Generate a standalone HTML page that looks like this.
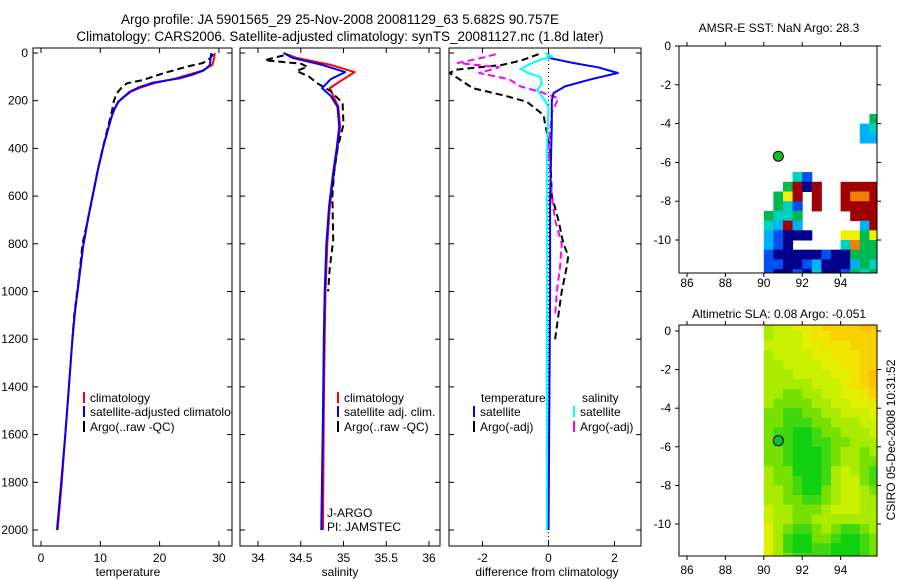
<!DOCTYPE html>
<html><head><meta charset="utf-8">
<style>
html,body{margin:0;padding:0;background:#fff;}
svg{display:block;font-family:"Liberation Sans",sans-serif;}
text{font-size:12px;fill:#000;}
</style></head>
<body>
<svg id="fig" width="900" height="580" viewBox="0 0 900 580">
<defs>
<clipPath id="c1"><rect x="33" y="48" width="199" height="498"/></clipPath>
<clipPath id="c2"><rect x="240" y="48" width="200" height="498"/></clipPath>
<clipPath id="c3"><rect x="449" y="48" width="192" height="498"/></clipPath>
<clipPath id="cm1"><rect x="679" y="46" width="198" height="227"/></clipPath>
<clipPath id="cm2"><rect x="679" y="325" width="198" height="231"/></clipPath>
</defs>
<text x="340" y="24" text-anchor="middle" style="font-size:13.5px">Argo profile: JA 5901565_29 25-Nov-2008 20081129_63 5.682S 90.757E</text>
<text x="340" y="41" text-anchor="middle" style="font-size:13.5px">Climatology: CARS2006. Satellite-adjusted climatology: synTS_20081127.nc (1.8d later)</text>
<g id="g"></g>
</svg>
<script>
// ---- profile data ----
const climDepth = [0,20,50,74,90,106,124,145,162,185,204,235,267,330,393,490,587,700,812,950,1090,1200,1400,1600,1800,2000];
const tempClim  = [29.3,29.2,28.9,27.2,25.0,22.8,19.5,16.8,15.2,14.0,13.1,12.4,11.9,11.2,10.5,9.6,8.8,7.9,7.1,6.4,5.7,5.3,4.7,4.1,3.5,2.8];
const tempSat   = [28.7,28.6,28.5,27.4,25.6,23.4,18.9,16.4,15.0,13.9,13.0,12.4,11.9,11.2,10.5,9.6,8.8,7.9,7.1,6.4,5.7,5.3,4.7,4.1,3.4,2.7];
const argoDepth = [5,20,42,57,85,113,127,145,168,200,239,300,400,500,600,700,800,900,1000,1100,1200];
const tempArgo  = [29.0,28.6,27.3,24.6,20.6,17.2,14.5,13.6,12.8,12.3,12.0,11.4,10.4,9.5,8.7,7.9,7.0,6.6,6.1,5.6,5.3];

const salDepth = [0,20,50,80,110,147,180,225,310,400,500,645,800,1000,1200,1500,2000];
const salClim  = [34.3,34.45,34.85,35.13,35.0,34.84,34.88,34.94,34.96,34.93,34.89,34.84,34.81,34.79,34.78,34.77,34.76];
const salSat   = [34.3,34.4,34.75,35.02,34.85,34.75,34.85,34.93,34.95,34.92,34.88,34.83,34.8,34.78,34.77,34.76,34.74];
const salArgoDepth = [10,30,45,58,75,100,126,160,210,300,400,500,600,785,900,1000];
const salArgo  = [34.3,34.08,34.5,34.58,34.45,34.6,34.69,34.85,34.99,35.0,34.93,34.89,34.87,34.88,34.84,34.82];

const tDiffSatDepth = [0,20,42,60,84,110,140,168,200,300,600,1000,2000];
const tDiffSat = [0,0,0.75,1.5,2.1,1.3,0.5,0.15,0.1,0.1,0.05,0.05,0.0];
const sDiffSatDepth = [0,15,30,50,67,85,100,130,155,190,225,400,2000];
const sDiffSat = [-0.1,0.1,-0.3,-0.6,-0.85,-0.6,-0.25,-0.2,-0.35,-0.15,0,-0.05,-0.05];
const tDiffArgoDepth = [5,30,50,70,84,110,147,180,205,260,300,400,600,700,800,850,900,1000,1100,1200];
const tDiffArgo = [-0.3,-0.8,-1.4,-2.8,-3.0,-2.7,-2.3,-1.3,-0.65,-0.15,-0.1,0.05,0.1,0.3,0.45,0.6,0.55,0.4,0.3,0.2];
const sDiffArgoDepth = [5,20,42,60,84,110,140,165,190,250,400,600,700,800,900,1000,1100];
const sDiffArgo = [-1.6,-2.0,-2.75,-1.5,-2.1,-1.2,-0.85,-0.2,0.3,0.1,0.0,0.1,0.2,0.4,0.35,0.25,0.2];

const depthTicks = [0,200,400,600,800,1000,1200,1400,1600,1800,2000];
const tempTicks = [0,10,20,30];
const salTicks = [34,34.5,35,35.5,36];
const salTickLabels = ["34","34.5","35","35.5","36"];
const diffTicks = [-2,0,2];

// ---- map data ----
const floatLon = 90.757, floatLat = -5.682;
const sstLatTop = [-6.5,-7,-7.5,-8,-8.5,-9,-9.5,-10,-10.5,-11,-11.5];
const sstRows = [
 "...TB.......",
 "..GRNR..RRRR",
 ".GYR.R..ROOR",
 ".GTB.R..RRRR",
 "GTTG.....RRR",
 "TCRC......CR",
 "CBNNN...YYGY",
 "CBN.....TOGG",
 "BNNNNNBNNGGG",
 "BBNNBCNNNCGT",
 "BNNBNTNNBGTG"];
const sstExtraLat = [-3.5,-4,-4.5];
const sstExtraRows = ["...........G","..........CT","..........CC"];
const slaLatTop = [0.5,0,-0.5,-1,-1.5,-2,-2.5,-3,-3.5,-4,-4.5,-5,-5.5,-6,-6.5,-7,-7.5,-8,-8.5,-9,-9.5,-10,-10.5,-11,-11.5];
const slaRows = [
 "344566777788","344456677777","444455666777","344445566677","334444556677",
 "333444455678","333334445678","332233445567","322223344556","221122334445",
 "221112233344","211001223334","211001122333","221000123323","221000123322",
 "322000134321","322100134421","332100234432","332211234433","433222344433",
 "433223333333","532112321123","531002210012","531001100012","532111100012"];

const svg = document.getElementById('fig');
const G = document.getElementById('g');
const NS = 'http://www.w3.org/2000/svg';
function mk(tag, attrs, parent){const e=document.createElementNS(NS,tag);for(const k in attrs)e.setAttribute(k,attrs[k]);(parent||G).appendChild(e);return e;}

const yD = d => 53 + d*0.2385;
const xT = t => 41 + t*5.93;
const xS = s => 258 + (s-34)*85.5;
const xDf = v => 548.5 + v*33;

const panels = [
 {name:'temperature-panel', x:33, w:199, clip:'c1', xs:xT, ticks:tempTicks, labels:tempTicks.map(String), xlabel:'temperature', lx:128},
 {name:'salinity-panel', x:240, w:200, clip:'c2', xs:xS, ticks:salTicks, labels:salTickLabels, xlabel:'salinity', lx:340},
 {name:'difference-panel', x:449, w:192, clip:'c3', xs:xDf, ticks:diffTicks, labels:diffTicks.map(String), xlabel:'difference from climatology', lx:547}
];
const pg = [];
panels.forEach((p,i)=>{
  const g = mk('g',{});
  
  
  pg.push(g);
  const r = mk('rect',{x:p.x,y:48,width:p.w,height:498,fill:'none',stroke:'#000','stroke-width':1},g);
  
  
  p.ticks.forEach((t,k)=>{
    const x = p.xs(t);
    mk('line',{x1:x,x2:x,y1:546,y2:541,stroke:'#000'},g);
    mk('line',{x1:x,x2:x,y1:48,y2:53,stroke:'#000'},g);
    const tl = mk('text',{x:x,y:562,'text-anchor':'middle'},g);
    tl.textContent = p.labels[k];
    
    
  });
  depthTicks.forEach(d=>{
    const y = yD(d);
    mk('line',{x1:p.x,x2:p.x+5,y1:y,y2:y,stroke:'#000'},g);
    mk('line',{x1:p.x+p.w,x2:p.x+p.w-5,y1:y,y2:y,stroke:'#000'},g);
    if(i===0){
      const tl = mk('text',{x:28,y:y+4,'text-anchor':'end'},g);
      tl.textContent = String(d);
      
      
    }
  });
  const xl = mk('text',{x:p.lx,y:576,'text-anchor':'middle'},g);
  xl.textContent = p.xlabel;
  
  
});

function line(g, clip, depths, vals, xs, color, dash, name){
  const pts = depths.map((d,k)=>xs(vals[k]).toFixed(1)+','+yD(d).toFixed(1)).join(' ');
  const a = {points:pts,fill:'none',stroke:color,'stroke-width':2,'clip-path':'url(#'+clip+')','stroke-linejoin':'round'};
  if(dash) a['stroke-dasharray']=dash;
  const pl = mk('polyline',a,g);
  
  
}
const zl = mk('line',{x1:xDf(0),x2:xDf(0),y1:48,y2:546,stroke:'#000','stroke-dasharray':'1,3'},pg[2]);



line(pg[0],'c1',climDepth,tempClim,xT,'#ff0000',null,'temperature-climatology-line');
line(pg[0],'c1',argoDepth,tempArgo,xT,'#000','7,4','temperature-argo-line');
line(pg[0],'c1',climDepth,tempSat,xT,'#0000ff',null,'temperature-satellite-line');
line(pg[1],'c2',salDepth,salClim,xS,'#ff0000',null,'salinity-climatology-line');
line(pg[1],'c2',salArgoDepth,salArgo,xS,'#000','7,4','salinity-argo-line');
line(pg[1],'c2',salDepth,salSat,xS,'#0000ff',null,'salinity-satellite-line');
line(pg[2],'c3',tDiffArgoDepth,tDiffArgo,xDf,'#000','7,4','temp-diff-argo-line');
line(pg[2],'c3',sDiffArgoDepth,sDiffArgo,xDf,'#ff00ff','7,4','sal-diff-argo-line');
line(pg[2],'c3',tDiffSatDepth,tDiffSat,xDf,'#0000ff',null,'temp-diff-satellite-line');
line(pg[2],'c3',sDiffSatDepth,sDiffSat,xDf,'#00ffff',null,'sal-diff-satellite-line');

function legItem(g,x,y,color,label,name){
  const it = mk('g',{},g);
  
  
  mk('line',{x1:x,x2:x,y1:y-10,y2:y+1,stroke:color,'stroke-width':2},it);
  const t = mk('text',{x:x+6,y:y},it); t.textContent = label;
}
const lg1 = mk('g',{'clip-path':'url(#c1)'},pg[0]);


legItem(lg1,84,402,'#ff0000','climatology','legend-climatology');
legItem(lg1,84,416,'#0000ff','satellite-adjusted climatology','legend-satellite-adjusted');
legItem(lg1,84,431,'#000','Argo(..raw -QC)','legend-argo');
const lg2 = mk('g',{},pg[1]);


legItem(lg2,338,402,'#ff0000','climatology','legend-climatology');
legItem(lg2,338,416,'#0000ff','satellite adj. clim.','legend-satellite-adj');
legItem(lg2,338,431,'#000','Argo(..raw -QC)','legend-argo');
const lg3 = mk('g',{},pg[2]);


let tt = mk('text',{x:481,y:402},lg3); tt.textContent='temperature';
tt = mk('text',{x:582,y:402},lg3); tt.textContent='salinity';
legItem(lg3,474,416,'#0000ff','satellite','legend-temp-satellite');
legItem(lg3,474,431,'#000','Argo(-adj)','legend-temp-argo');
legItem(lg3,574,416,'#00ffff','satellite','legend-sal-satellite');
legItem(lg3,574,431,'#ff00ff','Argo(-adj)','legend-sal-argo');
const pi = mk('g',{},pg[1]);


tt = mk('text',{x:327,y:517},pi); tt.textContent='J-ARGO';
tt = mk('text',{x:327,y:531},pi); tt.textContent='PI: JAMSTEC';

// ---- maps ----
const lonX = lon => 687 + (lon-86)*19.2;
const m1Y = lat => 46 - lat*19.4;
const m2Y = lat => 331 - lat*19.3;
const sstCol = {N:'#00008c',B:'#0050f0',C:'#00b0ff',T:'#00d0c0',G:'#00b850',L:'#00d000',Y:'#f0f000',O:'#f08000',R:'#a00000'};
const slaCol = ['#10d010','#40d810','#78e000','#a8ea00','#c8f000','#e0f000','#f0e400','#f8d200','#f8c000'];
const lonStart = 90, cell = 0.5;

function mapFrame(name,title,ty){
  const g = mk('g',{});
  
  
  const t = mk('text',{x:779,y:ty,'text-anchor':'middle'},g); t.textContent = title;
  
  
  return g;
}
function mapAxes(g,top,bottom,yfun,lats,lbly){
  mk('rect',{x:679,y:top,width:198,height:bottom-top,fill:'none',stroke:'#000'},g);
  [86,88,90,92,94].forEach(l=>{
    const x = lonX(l);
    mk('line',{x1:x,x2:x,y1:bottom,y2:bottom+4,stroke:'#000'},g);
    mk('line',{x1:x,x2:x,y1:top,y2:top-4,stroke:'#000'},g);
    const t = mk('text',{x:x,y:lbly,'text-anchor':'middle'},g); t.textContent=String(l);
  });
  lats.forEach(l=>{
    const y = yfun(l);
    mk('line',{x1:679,x2:675,y1:y,y2:y,stroke:'#000'},g);
    mk('line',{x1:877,x2:881,y1:y,y2:y,stroke:'#000'},g);
    const t = mk('text',{x:671,y:y+4,'text-anchor':'end'},g); t.textContent=String(l);
  });
}
const g1 = mapFrame('sst-map','AMSR-E SST: NaN Argo: 28.3',32);
const h1 = mk('g',{'clip-path':'url(#cm1)'},g1);
function drawCells(rows,lats,colFn,yfun,parent,name){
  rows.forEach((row,r)=>{
    for(let c=0;c<row.length;c++){
      const col = colFn(row[c]);
      if(!col) continue;
      const lon = lonStart + c*cell, lat = lats[r];
      const x0 = lonX(lon), x1 = lonX(lon+cell), y0 = yfun(lat), y1 = yfun(lat-cell);
      const rc = mk('rect',{x:x0,y:y0,width:x1-x0+0.5,height:y1-y0+0.5,fill:col},parent);
      
      
    }
  });
}
drawCells(sstRows,sstLatTop,ch=>sstCol[ch],m1Y,h1,'sst-cell');
drawCells(sstExtraRows,sstExtraLat,ch=>sstCol[ch],m1Y,h1,'sst-cell');
mapAxes(g1,46,273,m1Y,[0,-2,-4,-6,-8,-10],287);
let fc = mk('circle',{cx:lonX(floatLon),cy:m1Y(floatLat),r:5,fill:'#10c020',stroke:'#000'},g1);


const g2 = mapFrame('sla-map','Altimetric SLA: 0.08 Argo: -0.051',318);
const h2 = mk('g',{'clip-path':'url(#cm2)'},g2);
drawCells(slaRows,slaLatTop,ch=>slaCol[+ch],m2Y,h2,'sla-cell');
mapAxes(g2,325,556,m2Y,[0,-2,-4,-6,-8,-10],574);
fc = mk('circle',{cx:lonX(floatLon),cy:m2Y(floatLat),r:5,fill:'#10c030',stroke:'#000'},g2);


const cs = mk('text',{x:895,y:440,'text-anchor':'middle',transform:'rotate(-90 895 440)'});
cs.textContent = 'CSIRO 05-Dec-2008 10:31:52';


</script>
</body></html>
